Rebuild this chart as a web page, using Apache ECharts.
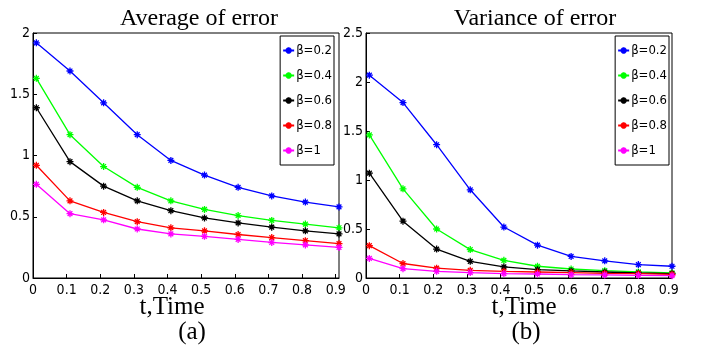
<!DOCTYPE html>
<html>
<head>
<meta charset="utf-8">
<script src="https://cdn.jsdelivr.net/npm/echarts@6/dist/echarts.min.js"></script>
<style>
  html, body { margin: 0; padding: 0; background: #fff; }
  #chart { width: 706px; height: 350px; }
</style>
</head>
<body>
<div id="chart"></div>
<script>
// sampled time points (same for both panels)
const timePoints = [0.01, 0.11, 0.21, 0.31, 0.41, 0.51, 0.61, 0.71, 0.81, 0.91];
const xTicks = [0, 0.1, 0.2, 0.3, 0.4, 0.5, 0.6, 0.7, 0.8, 0.9];
const betaNames = ['β=0.2', 'β=0.4', 'β=0.6', 'β=0.8', 'β=1'];
const betaColors = ['#0000ff', '#00ff00', '#000000', '#ff0000', '#ff00ff'];

// (a) average of error
const avgB02 = [1.92, 1.69, 1.43, 1.17, 0.96, 0.84, 0.74, 0.67, 0.62, 0.58];
const avgB04 = [1.63, 1.17, 0.91, 0.74, 0.63, 0.56, 0.51, 0.47, 0.44, 0.41];
const avgB06 = [1.39, 0.95, 0.75, 0.63, 0.55, 0.49, 0.45, 0.415, 0.385, 0.36];
const avgB08 = [0.92, 0.63, 0.535, 0.46, 0.41, 0.385, 0.355, 0.33, 0.305, 0.28];
const avgB1  = [0.765, 0.525, 0.475, 0.40, 0.36, 0.34, 0.315, 0.29, 0.27, 0.25];

// (b) variance of error
const varB02 = [2.07, 1.79, 1.36, 0.90, 0.52, 0.335, 0.22, 0.175, 0.137, 0.12];
const varB04 = [1.46, 0.91, 0.50, 0.29, 0.18, 0.12, 0.092, 0.075, 0.062, 0.052];
const varB06 = [1.07, 0.58, 0.295, 0.17, 0.113, 0.085, 0.072, 0.061, 0.051, 0.044];
const varB08 = [0.33, 0.148, 0.10, 0.078, 0.068, 0.061, 0.055, 0.048, 0.044, 0.038];
const varB1  = [0.20, 0.095, 0.068, 0.055, 0.045, 0.041, 0.034, 0.031, 0.027, 0.024];

const avgData = [avgB02, avgB04, avgB06, avgB08, avgB1];
const varData = [varB02, varB04, varB06, varB08, varB1];

const tickFont = "'Liberation Sans Narrow', 'DejaVu Sans Condensed', 'DejaVu Sans', sans-serif";
const serifFont = "'Liberation Serif', 'DejaVu Serif', serif";
const starSymbol = 'path://M0,5L10,5M5,0L5,10M1.6,1.6L8.4,8.4M8.4,1.6L1.6,8.4';

const chart = echarts.init(document.getElementById('chart'));

function makeSeries(values, idx) {
  return values.map((arr, i) => ({
    name: betaNames[i],
    type: 'line',
    xAxisIndex: idx,
    yAxisIndex: idx,
    data: arr.map((v, k) => [timePoints[k], v]),
    symbol: starSymbol,
    symbolSize: 7,
    showSymbol: true,
    animation: false,
    lineStyle: { color: betaColors[i], width: 1.3 },
    itemStyle: { color: betaColors[i], borderColor: betaColors[i], borderWidth: 1.3 },
  }));
}

function xAxisFor(idx) {
  return {
    type: 'value',
    gridIndex: idx,
    min: 0,
    max: 0.91,
    axisLine: { onZero: false, lineStyle: { color: '#000', width: 1 } },
    axisTick: { inside: true, length: 4, customValues: xTicks, lineStyle: { color: '#000' } },
    axisLabel: {
      customValues: xTicks,
      color: '#000',
      fontFamily: tickFont,
      fontSize: 14,
      margin: 5,
    },
    splitLine: { show: false },
  };
}

function yAxisFor(idx, max) {
  return {
    type: 'value',
    gridIndex: idx,
    min: 0,
    max: max,
    interval: 0.5,
    axisLine: { show: true, lineStyle: { color: '#000', width: 1 } },
    axisTick: { show: true, inside: true, length: 4, lineStyle: { color: '#000' } },
    axisLabel: {
      color: '#000',
      fontFamily: tickFont,
      fontSize: 14,
      margin: 3,
    },
    splitLine: { show: false },
  };
}

function legendFor(right) {
  return {
    data: betaNames,
    orient: 'vertical',
    right: right,
    top: 36,
    itemWidth: 11,
    itemHeight: 8,
    itemGap: 12,
    padding: [8, 2, 8, 2],
    borderColor: '#000',
    borderWidth: 1,
    backgroundColor: '#fff',
    selectedMode: false,
    textStyle: { color: '#000', fontFamily: tickFont, fontSize: 13, padding: [0, 0, 0, -3] },
  };
}

const titleStyle = { color: '#000', fontFamily: serifFont, fontSize: 24, fontWeight: 'normal' };
const labelStyle = { color: '#000', fontFamily: serifFont, fontSize: 25, fontWeight: 'normal' };

chart.setOption({
  backgroundColor: '#fff',
  animation: false,
  title: [
    { text: 'Average of error', left: 194, top: 2, textAlign: 'center', textStyle: titleStyle },
    { text: 'Variance of error', left: 530, top: 2, textAlign: 'center', textStyle: titleStyle },
    { text: 't,Time', left: 167, top: 290, textAlign: 'center', textStyle: labelStyle },
    { text: 't,Time', left: 519, top: 290, textAlign: 'center', textStyle: labelStyle },
    { text: '(a)', left: 187, top: 315, textAlign: 'center', textStyle: labelStyle },
    { text: '(b)', left: 521, top: 315, textAlign: 'center', textStyle: labelStyle },
  ],
  legend: [legendFor(372), legendFor(37)],
  grid: [
    { left: 33, top: 33, width: 306, height: 245, show: true, borderColor: '#000', borderWidth: 1, backgroundColor: 'transparent' },
    { left: 366, top: 33, width: 306, height: 245, show: true, borderColor: '#000', borderWidth: 1, backgroundColor: 'transparent' },
  ],
  xAxis: [xAxisFor(0), xAxisFor(1)],
  yAxis: [yAxisFor(0, 2), yAxisFor(1, 2.5)],
  series: [...makeSeries(avgData, 0), ...makeSeries(varData, 1)],
});
</script>
</body>
</html>
